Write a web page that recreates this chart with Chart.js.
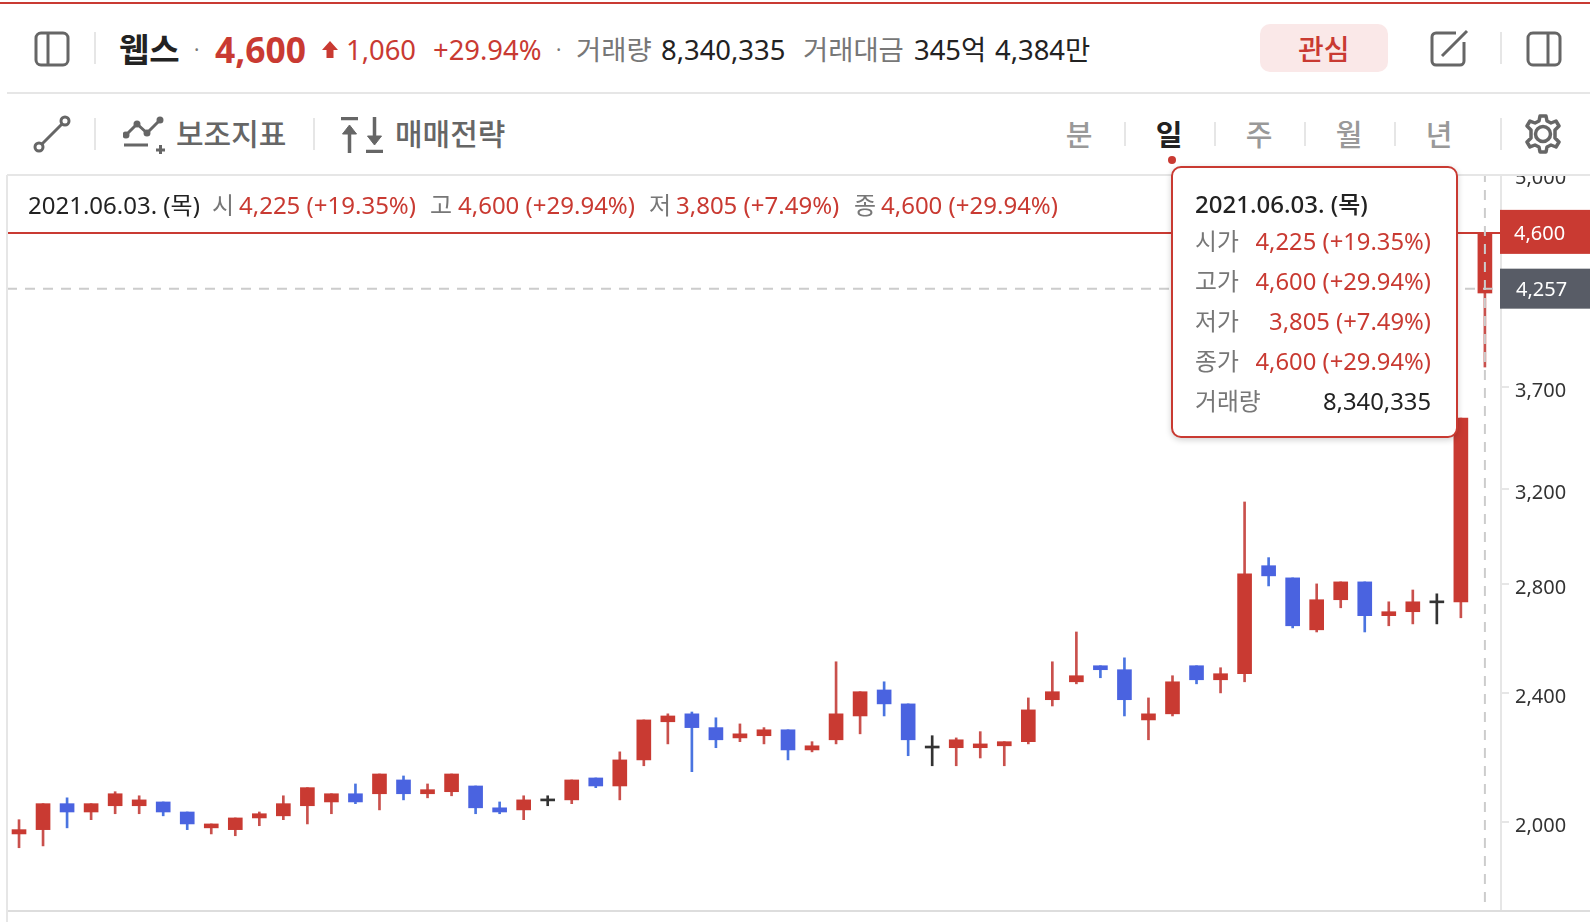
<!DOCTYPE html>
<html lang="ko">
<head>
<meta charset="UTF-8" />
<title>웹스 일봉</title>
<script src="https://cdn.jsdelivr.net/npm/chart.js@4/dist/chart.umd.min.js"></script>
<style>
  *{margin:0;padding:0;box-sizing:border-box}
  html,body{width:1590px;height:922px;overflow:hidden;background:#fff}
  body{font-family:"Noto Sans","Noto Sans CJK KR",sans-serif;color:#222;position:relative}
  #chart{position:absolute;left:0;top:0}
  #head{position:absolute;left:0;top:0;width:1590px;height:175px;background:#fff}
  .abs,.t{position:absolute;white-space:nowrap}
  .t{line-height:1;transform:translateY(-50%)}
  .red{color:#c93a32}.gray{color:#777}
  .hline{position:absolute;left:7px;right:0;height:2px;background:#e6e6e6}
  .div{position:absolute;width:2px;background:#e6e6e6}
  .r1{top:50px;font-size:27.4px}
  .r2{top:134px;font-size:30px;font-weight:500;color:#666}
  .tab{top:134px;font-size:29px;font-weight:500;color:#999;width:40px;text-align:center}
  .r3{top:205px;font-size:24px}
  svg{position:absolute;fill:none;stroke:#666;stroke-width:3}
  #tip{position:absolute;left:1171px;top:166px;width:287px;height:272px;background:#fff;border:2px solid #c93a32;border-radius:10px;box-shadow:0 2px 6px rgba(0,0,0,.18)}
  #tip .t{font-size:23.8px}
  #tip .v{right:25px}
  #tip .l{left:22px;color:#777}
</style>
</head>
<body>
<canvas id="chart" width="1590" height="922"></canvas>

<div class="abs" style="left:0;top:2px;width:1590px;height:2px;background:#c93a32;z-index:3"></div>
<div id="head">
  <div class="hline" style="top:92px"></div>
  <div class="hline" style="top:174px"></div>

  <!-- row 1 -->
  <svg style="left:34px;top:31px" width="36" height="36" viewBox="0 0 36 36"><rect x="2" y="2" width="32" height="32" rx="5"/><path d="M14 2v32"/></svg>
  <div class="div" style="left:94px;top:32px;height:32px"></div>
  <span class="t" style="left:119px;top:49px;font-size:33px;font-weight:700">웹스</span>
  <span class="t gray r1" style="left:194px;font-size:20px">·</span>
  <span class="t red" style="left:215px;top:50px;font-size:35.400px;font-weight:700">4,600</span>
  <svg style="left:322px;top:41px;stroke:none;fill:#c93a32" width="16" height="18" viewBox="0 0 16 18"><path d="M8 0l8 9h-4.500v8h-7v-8H0z"/></svg>
  <span class="t red r1" style="left:346px">1,060</span>
  <span class="t red r1" style="left:433px">+29.94%</span>
  <span class="t gray r1" style="left:556px;font-size:20px">·</span>
  <span class="t gray r1" style="left:576px">거래량</span>
  <span class="t r1" style="left:661px">8,340,335</span>
  <span class="t gray r1" style="left:803px">거래대금</span>
  <span class="t r1" style="left:914px">345억</span>
  <span class="t r1" style="left:995px">4,384만</span>
  <div class="abs" style="left:1260px;top:24px;width:128px;height:48px;background:#fae8e8;border-radius:10px"></div>
  <span class="t red" style="left:1298px;top:49px;font-size:28px;font-weight:500">관심</span>
  <svg style="left:1430px;top:28px" width="40" height="40" viewBox="0 0 40 40"><path d="M26 5H6a4 4 0 0 0-4 4v24a4 4 0 0 0 4 4h24a4 4 0 0 0 4-4V14"/><path d="M12 28L37 3"/></svg>
  <div class="div" style="left:1500px;top:32px;height:32px"></div>
  <svg style="left:1526px;top:31px" width="36" height="36" viewBox="0 0 36 36"><rect x="2" y="2" width="32" height="32" rx="5"/><path d="M22 2v32"/></svg>

  <!-- row 2 -->
  <svg style="left:33px;top:115px" width="38" height="38" viewBox="0 0 38 38"><circle cx="6" cy="32" r="4"/><circle cx="32" cy="6" r="4"/><path d="M9 29L29 9"/></svg>
  <div class="div" style="left:94px;top:118px;height:32px"></div>
  <svg style="left:123px;top:116px" width="44" height="38" viewBox="0 0 44 38"><path d="M3 19L14 8l10 9L37 4"/><path d="M1 29h24M33 34h9M37.500 29v9"/><circle cx="3" cy="19" r="2" fill="#666"/><circle cx="14" cy="8" r="2" fill="#666"/><circle cx="24" cy="17" r="2" fill="#666"/><circle cx="37" cy="4" r="2" fill="#666"/></svg>
  <span class="t r2" style="left:176px">보조지표</span>
  <div class="div" style="left:313px;top:118px;height:32px"></div>
  <svg style="left:341px;top:117px;stroke-width:3.500" width="42" height="36" viewBox="0 0 42 36"><path d="M0 1.500h17M8.500 10v26"/><path d="M25 34.500h17M33.500 0v22"/><path d="M1.500 17l7-9 7 9z" fill="#666" stroke-width="1"/><path d="M26.500 19l7 9 7-9z" fill="#666" stroke-width="1"/></svg>
  <span class="t r2" style="left:395px">매매전략</span>

  <span class="t tab" style="left:1059px">분</span>
  <div class="div" style="left:1124px;top:122px;height:24px"></div>
  <span class="t tab" style="left:1149px;color:#222;font-weight:700">일</span>
  <div class="div" style="left:1214px;top:122px;height:24px"></div>
  <span class="t tab" style="left:1239px">주</span>
  <div class="div" style="left:1304px;top:122px;height:24px"></div>
  <span class="t tab" style="left:1329px">월</span>
  <div class="div" style="left:1394px;top:122px;height:24px"></div>
  <span class="t tab" style="left:1419px">년</span>
  <div class="div" style="left:1500px;top:118px;height:32px"></div>
  <svg style="left:1523px;top:114px;stroke-width:3.500" width="40" height="40" viewBox="0 0 40 40"><circle cx="20" cy="20" r="7.500"/><path d="M17 2h6l1 5 4 2 5-2 3 5-4 4v8l4 4-3 5-5-2-4 2-1 5h-6l-1-5-4-2-5 2-3-5 4-4v-8l-4-4 3-5 5 2 4-2z" stroke-linejoin="round"/></svg>
</div>

<!-- OHLC row -->
<span class="t r3" style="left:28px">2021.06.03. (목)</span>
<span class="t r3 gray" style="left:212px">시</span>
<span class="t r3 red" style="left:239px">4,225 (+19.35%)</span>
<span class="t r3 gray" style="left:430px">고</span>
<span class="t r3 red" style="left:458px">4,600 (+29.94%)</span>
<span class="t r3 gray" style="left:649px">저</span>
<span class="t r3 red" style="left:676px">3,805 (+7.49%)</span>
<span class="t r3 gray" style="left:854px">종</span>
<span class="t r3 red" style="left:881px">4,600 (+29.94%)</span>

<div class="abs" style="left:1168px;top:156px;width:8px;height:8px;border-radius:50%;background:#c93a32;z-index:3"></div>
<div id="tip">
  <span class="t" style="left:22px;top:36px;font-size:24px;font-weight:500">2021.06.03. (목)</span>
  <span class="t l" style="top:74px">시가</span><span class="t v red" style="top:74px">4,225 (+19.35%)</span>
  <span class="t l" style="top:114px">고가</span><span class="t v red" style="top:114px">4,600 (+29.94%)</span>
  <span class="t l" style="top:154px">저가</span><span class="t v red" style="top:154px">3,805 (+7.49%)</span>
  <span class="t l" style="top:194px">종가</span><span class="t v red" style="top:194px">4,600 (+29.94%)</span>
  <span class="t l" style="top:234px">거래량</span><span class="t v" style="top:234px">8,340,335</span>
</div>

<script>
  // daily candles, last one is 2021.06.03
  const opens  = [1966,1978,2052,2028,2046,2046,2057,2028,1983,1978,2011,2017,2046,2057,2081,2081,2122,2081,2087,2104,2040,2034,2060,2063,2128,2104,2183,2304,2330,2285,2252,2259,2278,2214,2246,2323,2410,2363,2220,2221,2221,2227,2240,2377,2438,2494,2480,2310,2330,2494,2445,2466,2873,2824,2624,2738,2808,2677,2692,2726,2730,4225];
  const highs  = [2006,2052,2069,2052,2087,2075,2057,2028,1994,2011,2028,2075,2099,2081,2110,2140,2134,2110,2140,2104,2057,2075,2075,2122,2128,2208,2310,2330,2336,2317,2297,2285,2278,2240,2508,2404,2438,2363,2259,2252,2272,2240,2383,2508,2616,2494,2522,2383,2459,2494,2487,3144,2906,2824,2800,2808,2808,2730,2776,2761,3540,4600];
  const lows   = [1928,1933,1983,2006,2023,2023,2017,1978,1966,1961,1989,2006,1994,2023,2052,2034,2063,2069,2075,2023,2023,2006,2046,2052,2099,2063,2165,2233,2147,2221,2240,2233,2183,2208,2233,2265,2323,2196,2165,2165,2189,2165,2233,2356,2431,2452,2323,2246,2323,2431,2400,2438,2792,2631,2616,2707,2616,2639,2646,2646,2669,3805];
  const closes = [1978,2052,2028,2052,2081,2063,2028,1994,1994,2011,2023,2052,2099,2081,2057,2140,2081,2093,2140,2040,2028,2063,2060,2122,2104,2183,2310,2323,2285,2246,2265,2278,2214,2227,2330,2404,2363,2246,2220,2246,2233,2240,2343,2404,2459,2480,2377,2330,2438,2445,2466,2840,2832,2639,2738,2808,2677,2692,2730,2726,3540,4600];
  const tickValues = [2000,2400,2800,3200,3700,5000];
  const lastPrice = 4600;
  const crossPrice = 4257;

  const RED = '#c93a32', BLUE = '#4a63e0', BLACK = '#333333';
  const WICK_RED = '#c9504c', WICK_BLUE = '#4a74e0';
  const fmt = v => v.toLocaleString('en-US');
  const upDown = (i, up, down, flat) => closes[i] > opens[i] ? up : closes[i] < opens[i] ? down : flat;

  // price line, crosshair and the two price tags on the axis
  const overlay = {
    id: 'overlay',
    afterDatasetsDraw(chart) {
      const {ctx, chartArea: a, scales: {x, y}} = chart;
      const yLast = y.getPixelForValue(lastPrice), yCross = y.getPixelForValue(crossPrice);
      const xLast = x.getPixelForValue(opens.length - 1);
      ctx.save();
      ctx.lineWidth = 2;
      ctx.strokeStyle = RED;
      ctx.beginPath(); ctx.moveTo(a.left, yLast); ctx.lineTo(a.right, yLast); ctx.stroke();
      ctx.strokeStyle = '#cccccc';
      ctx.setLineDash([10, 8]);
      ctx.beginPath(); ctx.moveTo(a.left, yCross + 1); ctx.lineTo(a.right, yCross + 1); ctx.stroke();
      ctx.beginPath(); ctx.moveTo(xLast, a.top); ctx.lineTo(xLast, a.bottom); ctx.stroke();
      ctx.setLineDash([]);
      // tags
      ctx.font = '20px "Noto Sans"';
      ctx.textBaseline = 'middle';
      ctx.fillStyle = RED;
      ctx.fillRect(a.right - 1, yLast - 23, 90, 44);
      ctx.fillStyle = '#585c66';
      ctx.fillRect(a.right - 1, yCross - 19, 90, 40);
      ctx.fillStyle = '#fff';
      ctx.fillText(fmt(lastPrice), 1514, yLast + 1);
      ctx.fillText(fmt(crossPrice), 1516, yCross + 3);
      // baseline under the plot
      ctx.fillStyle = '#dddddd';
      ctx.fillRect(a.left, a.bottom - 1, 1590 - a.left, 2);
      ctx.fillStyle = '#e6e6e6';
      ctx.fillRect(6, 0, 2, 922);
      ctx.restore();
    }
  };

  new Chart(document.getElementById('chart'), {
    type: 'bar',
    data: {
      datasets: [
        {
          label: 'wick',
          data: opens.map((_, i) => ({x: i, y: [lows[i], highs[i]]})),
          backgroundColor: opens.map((_, i) => upDown(i, WICK_RED, WICK_BLUE, BLACK)),
          barThickness: 2,
          grouped: false,
          order: 2
        },
        {
          label: 'body',
          data: opens.map((o, i) => ({x: i, y: [o, closes[i]]})),
          backgroundColor: opens.map((_, i) => upDown(i, RED, BLUE, BLACK)),
          barThickness: 14,
          minBarLength: 2,
          grouped: false,
          order: 1
        }
      ]
    },
    options: {
      responsive: false,
      animation: false,
      events: [],
      layout: {padding: {left: 7, top: 100, bottom: 11, right: 0}},
      plugins: {legend: {display: false}, tooltip: {enabled: false}},
      scales: {
        x: {
          type: 'linear',
          min: -0.5,
          max: 61.67,
          offset: false,
          display: false
        },
        y: {
          type: 'logarithmic',
          position: 'right',
          min: 1763,
          max: 5551,
          afterBuildTicks: s => { s.ticks = tickValues.map(v => ({value: v})); },
          afterFit: s => { s.width = 89; s.paddingTop = 0; s.paddingBottom = 0; },
          grid: {drawOnChartArea: false, color: '#e6e6e6', tickLength: 8, lineWidth: 2},
          border: {color: '#e6e6e6', width: 2},
          ticks: {
            autoSkip: false,
            maxRotation: 0,
            padding: 6,
            labelOffset: 4,
            color: '#333',
            font: {family: '"Noto Sans"', size: 20},
            callback: v => fmt(v)
          }
        }
      }
    },
    plugins: [overlay]
  });
</script>
</body>
</html>
